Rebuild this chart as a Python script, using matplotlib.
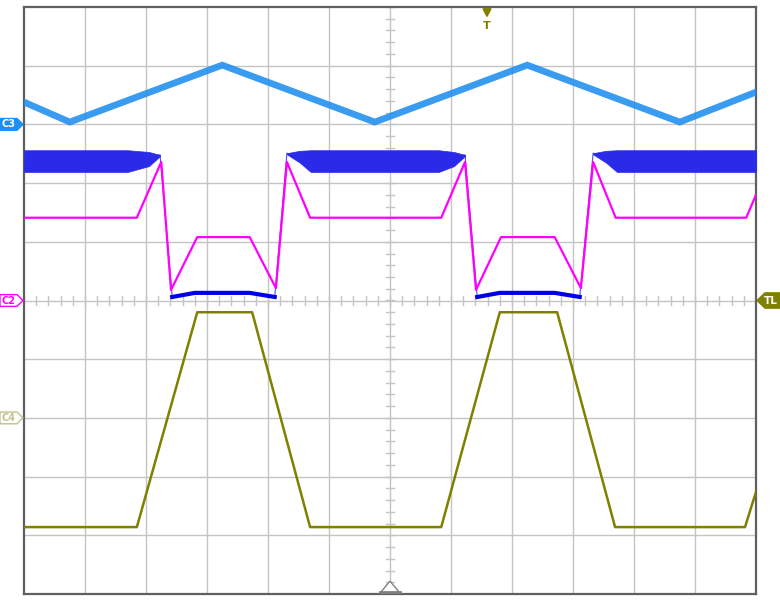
import matplotlib
matplotlib.use("Agg")
import matplotlib.pyplot as plt
import numpy as np
from matplotlib.patches import Polygon
from matplotlib.transforms import blended_transform_factory

# screen is 12 x 10 divisions, values are in divisions from the centre
# C3 (light blue) - triangle wave
c3_x = [-6.0, -5.25, -2.75, -0.25, 2.25, 4.75, 6.0]
c3_y = [3.38, 3.04, 4.01, 3.04, 4.01, 3.04, 3.55]

# C1 (dark blue) - centre path of the trace
c1_x = [-6.0, -4.10, -3.77, -3.57, -3.20, -2.30, -1.89, -1.69, -1.48, 0.98, 1.23,
        1.43, 1.80, 2.70, 3.11, 3.33, 3.54, 6.0]
c1_y = [2.38, 2.38, 2.48, 0.06, 0.13, 0.13, 0.06, 2.51, 2.43, 2.39, 2.48,
        0.06, 0.13, 0.13, 0.06, 2.51, 2.43, 2.38]
# low (off) sections of C1
c1_low = [([-3.57, -3.20, -2.30, -1.89], [0.06, 0.13, 0.13, 0.06]),
          ([1.43, 1.80, 2.70, 3.11], [0.06, 0.13, 0.13, 0.06])]
# noisy high sections of C1, upper / lower envelope
c1_bands = [([-6.0, -4.3, -3.95, -3.77], [2.56, 2.56, 2.53, 2.48], [2.19, 2.19, 2.29, 2.46]),
            ([-1.69, -1.48, -1.3, 0.8, 1.05, 1.23], [2.51, 2.55, 2.56, 2.56, 2.53, 2.48],
             [2.49, 2.35, 2.19, 2.19, 2.29, 2.46]),
            ([3.33, 3.54, 3.72, 6.0], [2.51, 2.55, 2.56, 2.56], [2.49, 2.35, 2.19, 2.19])]

# C2 (magenta)
c2_x = [-6.0, -4.15, -3.75, -3.59, -3.16, -2.30, -1.87, -1.69, -1.31, 0.84, 1.23,
        1.41, 1.82, 2.70, 3.13, 3.33, 3.70, 5.84, 6.0]
c2_y = [1.41, 1.41, 2.36, 0.18, 1.08, 1.08, 0.21, 2.36, 1.41, 1.41, 2.36,
        0.18, 1.08, 1.08, 0.21, 2.36, 1.41, 1.41, 1.80]

# C4 (olive)
c4_x = [-6.0, -4.15, -3.16, -2.26, -1.31, 0.84, 1.80, 2.74, 3.69, 5.82, 6.0]
c4_y = [-3.86, -3.86, -0.20, -0.20, -3.86, -3.86, -0.20, -0.20, -3.86, -3.86, -3.26]

# channel reference levels and trigger
ref_levels = {"C3": 3.0, "C2": 0.0, "C4": -2.0}
trig_level = 0.0
trig_pos = 1.59

COL_C3 = "#1e8ef0"
COL_C1 = "#0000e6"
COL_C1_BAND = "#2a2ae8"
COL_C2 = "#ff00ff"
COL_C4 = "#808000"
COL_C4_PALE = "#c2c28a"
GRID = "#c4c4c4"
BORDER = "#606060"

W, H = 780, 603
fig = plt.figure(figsize=(W / 100, H / 100), dpi=100)
ax = fig.add_axes([24 / W, 9 / H, 732 / W, 587 / H])
ax.set_xlim(-6, 6)
ax.set_ylim(-5, 5)
ax.set_xticks([])
ax.set_yticks([])
for s in ax.spines.values():
    s.set_color(BORDER)
    s.set_linewidth(1.6)

# graticule
for gx in range(-5, 6):
    ax.axvline(gx, color=GRID, lw=1.0, zorder=0)
for gy in range(-4, 5):
    ax.axhline(gy, color=GRID, lw=1.0, zorder=0)
minor = np.arange(-6, 6.01, 0.2)
for m in minor:
    ax.plot([m, m], [-0.07, 0.07], color=GRID, lw=1.0, zorder=0)
minor_y = np.arange(-5, 5.01, 0.2)
for m in minor_y:
    ax.plot([-0.065, 0.065], [m, m], color=GRID, lw=1.0, zorder=0)

# traces
ax.plot(c3_x, c3_y, color=COL_C3, lw=4.8, alpha=0.88, solid_joinstyle="miter", zorder=3)
ax.plot(c1_x, c1_y, color=COL_C1, lw=0.8, alpha=0.7, zorder=4)
for lx, ly in c1_low:
    ax.plot(lx, ly, color=COL_C1, lw=3.0, zorder=4)
for bx, up, lo in c1_bands:
    ax.fill_between(bx, lo, up, color=COL_C1_BAND, lw=0.5, zorder=4.5)
ax.plot(c2_x, c2_y, color=COL_C2, lw=1.6, zorder=5)
ax.plot(c4_x, c4_y, color=COL_C4, lw=1.8, zorder=5)

# channel markers on the left edge (x in figure pixels, y in divisions)
tr = blended_transform_factory(fig.transFigure, ax.transData)
hh = 0.1


def left_marker(label, level, face, edge, tcol):
    pts = [(0, level - hh), (17 / W, level - hh), (23 / W, level),
           (17 / W, level + hh), (0, level + hh)]
    fig.patches.append(Polygon(pts, closed=True, transform=tr, facecolor=face,
                               edgecolor=edge, lw=1.0))
    fig.text(9 / W, level, label, transform=tr, ha="center", va="center",
             color=tcol, fontsize=7, fontweight="bold")


left_marker("C3", ref_levels["C3"], COL_C3, COL_C3, "white")
left_marker("C2", ref_levels["C2"], "white", COL_C2, COL_C2)
left_marker("C4", ref_levels["C4"], "white", COL_C4_PALE, COL_C4_PALE)

# trigger level marker on the right edge
pts = [(757 / W, trig_level), (765 / W, trig_level - hh * 1.3), (780 / W, trig_level - hh * 1.3),
       (780 / W, trig_level + hh * 1.3), (765 / W, trig_level + hh * 1.3)]
fig.patches.append(Polygon(pts, closed=True, transform=tr, facecolor=COL_C4, edgecolor=COL_C4))
fig.text(771 / W, trig_level, "TL", transform=tr, ha="center", va="center",
         color="white", fontsize=7.5, fontweight="bold")

# trigger position marker on top
ax.add_patch(Polygon([(trig_pos - 0.065, 4.97), (trig_pos + 0.065, 4.97), (trig_pos, 4.84)],
                     closed=True, facecolor=COL_C4, edgecolor=COL_C4, zorder=6))
ax.text(trig_pos, 4.68, "T", ha="center", va="center", color=COL_C4,
        fontsize=8, fontweight="bold", zorder=6)

# centre marker at the bottom
ax.add_patch(Polygon([(-0.16, -4.98), (0.16, -4.98), (0, -4.78)], closed=True,
                     facecolor="white", edgecolor="#808080", lw=1.0, zorder=6))
ax.plot([-0.16, 0.16], [-4.97, -4.97], color="#808080", lw=2.0, zorder=6)

fig.savefig("out.png", dpi=100)
